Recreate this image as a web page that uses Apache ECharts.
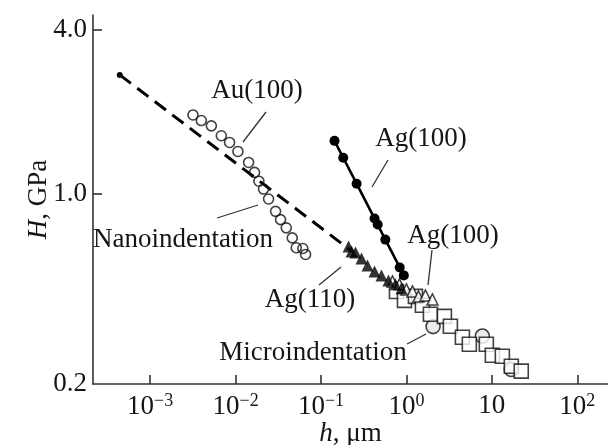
<!DOCTYPE html>
<html>
<head>
<meta charset="utf-8">
<script src="https://cdn.jsdelivr.net/npm/echarts@6/dist/echarts.min.js"></script>
<style>
  html, body { margin: 0; padding: 0; background: #fff; }
  #chart { width: 608px; height: 445px; }
</style>
</head>
<body>
<div id="chart"></div>
<script>
  // h (um) and H (GPa)
  const xTicks = [1e-3, 1e-2, 1e-1, 1, 10, 100];
  const yTicks = [0.2, 1, 4];

  const nanoFit = [[4.4e-4, 2.73], [0.215, 0.624]];

  const au100Nano = [
    [0.00317, 1.946], [0.00397, 1.856], [0.0052, 1.774], [0.0068, 1.632],
    [0.0085, 1.542], [0.01064, 1.429], [0.01419, 1.302], [0.01667, 1.197],
    [0.01874, 1.111], [0.02124, 1.04], [0.02432, 0.956], [0.02938, 0.861],
    [0.0336, 0.803], [0.03917, 0.749], [0.04603, 0.688], [0.05128, 0.633],
    [0.06124, 0.629], [0.06592, 0.598]
  ];

  const ag100Nano = [
    [0.1439, 1.563], [0.182, 1.355], [0.2609, 1.088], [0.4236, 0.81],
    [0.4604, 0.77], [0.5664, 0.678], [0.835, 0.536], [0.932, 0.501]
  ];

  const ag110Nano = [
    [0.21, 0.64], [0.2275, 0.613], [0.2533, 0.608], [0.2978, 0.578],
    [0.35, 0.545], [0.4227, 0.518], [0.5105, 0.501], [0.616, 0.48],
    [0.743, 0.4645], [0.874, 0.449]
  ];

  const ag100Micro = [
    [0.686, 0.476], [0.828, 0.4645], [1.0, 0.445], [1.175, 0.4375],
    [1.381, 0.4195], [1.668, 0.423], [2.014, 0.409]
  ];

  const microSquares = [
    [0.764, 0.4375], [0.948, 0.4056], [1.274, 0.4195], [1.538, 0.389],
    [1.909, 0.3605], [2.782, 0.3543], [3.27, 0.326], [4.52, 0.297],
    [5.45, 0.28], [8.62, 0.28], [10.14, 0.255], [13.27, 0.253],
    [16.9, 0.2325], [22.1, 0.223]
  ];

  const microCircles = [[2.05, 0.325], [7.74, 0.3], [16.9, 0.226]];

  const font = 'Liberation Serif';
  const ink = '#151515';

  // annotation text and leader lines (pixels)
  const notes = [
    { text: 'Au(100)', x: 257, y: 91, line: [266, 112, 243, 142] },
    { text: 'Ag(100)', x: 421, y: 139, line: [388, 160, 372, 187] },
    { text: 'Nanoindentation', x: 183, y: 240, line: [258, 205, 217, 218] },
    { text: 'Ag(100)', x: 453, y: 236, line: [432, 250, 428, 285] },
    { text: 'Ag(110)', x: 310, y: 300, line: [341, 267, 319, 285] },
    { text: 'Microindentation', x: 313, y: 353, line: [426, 334, 407, 344] }
  ];

  const graphics = [];
  notes.forEach(n => {
    graphics.push({
      type: 'text', x: n.x, y: n.y, z: 100,
      style: { text: n.text, font: '27px "' + font + '"', fill: ink, align: 'center', verticalAlign: 'middle' }
    });
    graphics.push({
      type: 'line', z: 100,
      shape: { x1: n.line[0], y1: n.line[1], x2: n.line[2], y2: n.line[3] },
      style: { stroke: '#333', lineWidth: 1.3 }
    });
  });

  const chart = echarts.init(document.getElementById('chart'));

  const option = {
    backgroundColor: '#fff',
    animation: false,
    grid: { left: 93, right: 0, top: 15, bottom: 61, outerBoundsMode: 'none', containLabel: false },
    textStyle: { fontFamily: font },
    xAxis: {
      type: 'log',
      logBase: 10,
      min: 2.14e-4,
      max: 229,
      name: '{i|h}, μm',
      nameLocation: 'middle',
      nameGap: 36,
      nameMoveOverlap: false,
      nameTextStyle: {
        fontFamily: font, fontSize: 27, color: ink,
        rich: { i: { fontFamily: font, fontSize: 27, fontStyle: 'italic', color: ink } }
      },
      axisLine: { show: true, lineStyle: { color: '#333', width: 1.6 } },
      axisTick: { show: true, inside: true, length: 9, customValues: xTicks, lineStyle: { color: '#333', width: 1.6 } },
      axisLabel: {
        customValues: xTicks,
        margin: 8,
        color: ink,
        formatter: v => {
          const e = Math.round(Math.log10(v));
          if (e === 1) return '{b|10}';
          return '{b|10}{s|' + (e < 0 ? '\u2212' + (-e) : e) + '}';
        },
        rich: {
          b: { fontFamily: font, fontSize: 27, color: ink },
          s: { fontFamily: font, fontSize: 18, color: ink, padding: [0, 0, 12, 0] }
        }
      },
      splitLine: { show: false }
    },
    yAxis: {
      type: 'log',
      logBase: 10,
      min: 0.2,
      max: 4.53,
      name: '{i|H}, GPa',
      nameLocation: 'middle',
      nameRotate: 90,
      nameGap: 41,
      nameMoveOverlap: false,
      nameTextStyle: {
        fontFamily: font, fontSize: 27, color: ink,
        rich: { i: { fontFamily: font, fontSize: 27, fontStyle: 'italic', color: ink } }
      },
      axisLine: { show: true, lineStyle: { color: '#333', width: 1.6 } },
      axisTick: { show: true, inside: true, length: 9, customValues: [1, 4], lineStyle: { color: '#333', width: 1.6 } },
      axisLabel: {
        customValues: yTicks,
        margin: 6,
        color: ink,
        fontFamily: font,
        fontSize: 27,
        formatter: v => Number(v).toFixed(1)
      },
      splitLine: { show: false }
    },
    series: [
      {
        name: 'fit',
        type: 'line',
        data: nanoFit.map((p, i) => i === 0 ? { value: p, symbol: 'circle', symbolSize: 6 } : { value: p, symbol: 'none' }),
        lineStyle: { color: '#000', width: 3, type: [14, 8] },
        itemStyle: { color: '#000' },
        z: 2
      },
      {
        name: 'Au(100) nano',
        type: 'scatter',
        data: au100Nano,
        symbol: 'circle',
        symbolSize: 10,
        itemStyle: { color: 'rgba(255,255,255,0)', borderColor: '#111', borderWidth: 1.6 },
        z: 3
      },
      {
        name: 'micro circles',
        type: 'scatter',
        data: microCircles,
        symbol: 'circle',
        symbolSize: 14,
        itemStyle: { color: '#e6e6e6', borderColor: '#111', borderWidth: 1.6 },
        z: 3
      },
      {
        name: 'micro squares',
        type: 'scatter',
        data: microSquares,
        symbol: 'rect',
        symbolSize: 14,
        itemStyle: { color: '#fff', borderColor: '#111', borderWidth: 1.6 },
        z: 4
      },
      {
        name: 'Ag(100) micro',
        type: 'scatter',
        data: ag100Micro,
        symbol: 'triangle',
        symbolSize: 11,
        itemStyle: { color: '#fff', borderColor: '#111', borderWidth: 1.5 },
        z: 5
      },
      {
        name: 'Ag(100) nano',
        type: 'line',
        data: ag100Nano,
        symbol: 'circle',
        symbolSize: 10,
        showAllSymbol: true,
        lineStyle: { color: '#000', width: 2.6 },
        itemStyle: { color: '#000' },
        z: 6
      },
      {
        name: 'Ag(110) nano',
        type: 'scatter',
        data: ag110Nano,
        symbol: 'triangle',
        symbolSize: 12,
        itemStyle: { color: '#000' },
        z: 6
      }
    ],
    graphic: graphics
  };

  chart.setOption(option);
</script>
</body>
</html>
